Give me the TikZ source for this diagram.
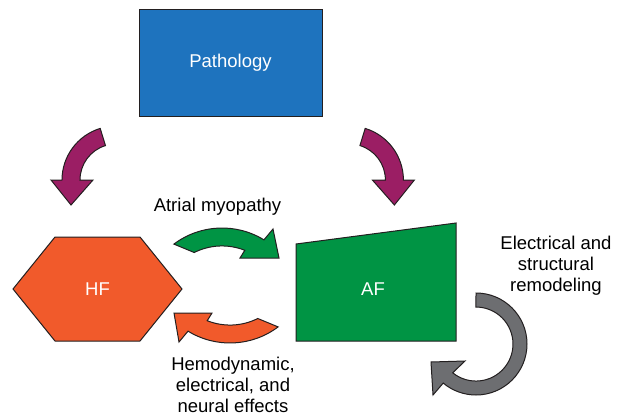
\documentclass[tikz,border=0pt]{standalone}
\usepackage{fontspec}
\setmainfont{Liberation Sans}
\definecolor{pathblue}{RGB}{30,115,190}
\definecolor{hforange}{RGB}{241,90,43}
\definecolor{afgreen}{RGB}{0,148,68}
\definecolor{purp}{RGB}{155,30,100}
\definecolor{remgray}{RGB}{109,110,113}
\definecolor{outl}{RGB}{35,31,32}
\tikzset{block/.style = {draw=outl, line width=1pt},
         txt/.style = {font=\fontsize{18.5}{21}\selectfont, text=black, inner sep=0pt},
         intxt/.style = {txt, text=white}}

\begin{document}
\begin{tikzpicture}[x=1pt, y=-1pt]
\useasboundingbox (0,0) rectangle (622,418);
% the three blocks
\node [block, fill=pathblue, minimum width=183pt, minimum height=107pt, intxt] (patho) at (230.5,62.5) {Pathology};
\filldraw [block, fill=hforange] (13,289) -- (55,237) -- (140,237) -- (182,289) -- (140,341) -- (55,341) -- cycle;
\node [intxt] (hf) at (97.5,289) {HF};
\filldraw [block, fill=afgreen] (296,244) -- (456,223) -- (456,341) -- (296,341) -- cycle;
\node [intxt] (af) at (373,289) {AF};
% curved arrows
\filldraw [block, fill=purp] (100.2,128.4) arc [start angle=253, end angle=180, radius=54] -- (51,180) -- (71,205) -- (93,180) -- (80,180) arc [start angle=180, end angle=253, radius=36] -- cycle;
\filldraw [block, fill=purp] (365.2,128.4) arc [start angle=287, end angle=360, radius=54] -- (414.4,180) -- (394.4,205) -- (372.4,180) -- (385.4,180) arc [start angle=360, end angle=287, radius=36] -- cycle;
\filldraw [block, fill=afgreen] (173.9,244.1) arc [start angle=233, end angle=301.6, radius=80] -- (273,229) -- (279,258) -- (240,258) -- (244.8,250.3) arc [start angle=291.6, end angle=243.4, radius=62] -- cycle;
\filldraw [block, fill=hforange] (278.1,326.9) arc [start angle=53, end angle=121.6, radius=80] -- (179,342) -- (174,313) -- (212,313) -- (207.2,320.7) arc [start angle=111.6, end angle=63.4, radius=62] -- cycle;
\filldraw [block, fill=remgray] (476,293) arc [start angle=-90, end angle=130, radius=51] -- (433,395) -- (431,362) -- (465,361) -- (452.7,372.8) arc [start angle=129, end angle=-90, radius=37] -- cycle;
% labels
\node [txt, anchor=base] (myo) at (217.5,211) {Atrial myopathy};
\node [txt, align=center, anchor=north] (remod) at (556,235.5) {Electrical and\\structural\\remodeling};
\node [txt, align=center, anchor=north] (hemo) at (233,357) {Hemodynamic,\\electrical, and\\neural effects};
\end{tikzpicture}
\end{document}
